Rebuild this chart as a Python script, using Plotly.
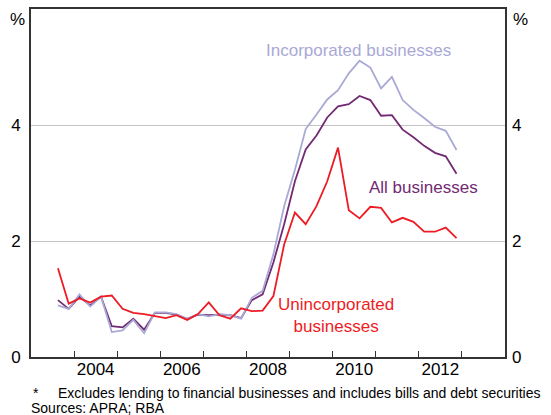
import plotly.graph_objects as go

# quarterly observations, Q3 2003 .. Q4 2012 (plotted at mid-quarter)
quarters = [(y, q) for y in range(2003, 2013) for q in range(1, 5)][2:]
xpos = [y + (q - 0.5) / 4 for y, q in quarters]

incorporated = [0.89, 0.83, 1.08, 0.87, 1.04, 0.43, 0.46, 0.64, 0.41, 0.77,
                0.77, 0.74, 0.66, 0.74, 0.70, 0.74, 0.72, 0.66, 1.02, 1.14,
                1.77, 2.60, 3.23, 3.93, 4.18, 4.44, 4.60, 4.89, 5.11, 4.99,
                4.63, 4.83, 4.43, 4.26, 4.12, 3.97, 3.90, 3.57]
all_bus = [0.98, 0.83, 1.04, 0.89, 1.04, 0.53, 0.51, 0.66, 0.47, 0.76,
           0.76, 0.73, 0.66, 0.73, 0.72, 0.73, 0.72, 0.67, 0.98, 1.08,
           1.63, 2.29, 3.03, 3.58, 3.82, 4.13, 4.32, 4.36, 4.50, 4.43,
           4.16, 4.17, 3.92, 3.79, 3.64, 3.52, 3.46, 3.16]
unincorporated = [1.53, 0.92, 1.01, 0.94, 1.04, 1.06, 0.83, 0.76, 0.74, 0.70,
                  0.67, 0.72, 0.64, 0.74, 0.94, 0.72, 0.66, 0.84, 0.79, 0.80,
                  1.05, 1.94, 2.49, 2.29, 2.60, 3.03, 3.61, 2.53, 2.39, 2.59,
                  2.57, 2.32, 2.40, 2.33, 2.16, 2.16, 2.23, 2.05]

year_ticks = list(range(2004, 2014))
label_years = [2004, 2006, 2008, 2010, 2012]
y_ticks = [0, 2, 4]

RED = '#ED1C24'
PURPLE = '#722A72'
LAVENDER = '#A9A9D6'
FONT = 'Arial, Liberation Sans, sans-serif'

fig = go.Figure()
fig.add_trace(go.Scatter(x=xpos, y=all_bus, mode='lines', name='All businesses',
                         line=dict(color=PURPLE, width=1.8)))
fig.add_trace(go.Scatter(x=xpos, y=incorporated, mode='lines', name='Incorporated businesses',
                         line=dict(color=LAVENDER, width=1.8)))
fig.add_trace(go.Scatter(x=xpos, y=unincorporated, mode='lines', name='Unincorporated businesses',
                         line=dict(color=RED, width=1.8), xaxis='x2', yaxis='y2'))

fig.update_layout(
    width=551, height=415,
    margin=dict(l=31, r=46, t=7, b=58),
    plot_bgcolor='white', paper_bgcolor='white',
    showlegend=False,
    font=dict(family=FONT, size=17, color='black'),
    xaxis=dict(range=[2003, 2014], tickvals=year_ticks, showticklabels=False,
               ticks='inside', ticklen=6, tickcolor='#333', tickwidth=1.2,
               showline=True, linecolor='#333', linewidth=2, mirror=True,
               showgrid=False, zeroline=False),
    xaxis2=dict(range=[2003, 2014], overlaying='x', anchor='y2', side='bottom',
                tickvals=[y + 0.5 for y in label_years], ticktext=[str(y) for y in label_years],
                ticks='', showgrid=False, zeroline=False, showline=False),
    yaxis=dict(range=[0, 6], tickvals=y_ticks, ticks='', showgrid=True,
               gridcolor='#C4C4C4', gridwidth=1, zeroline=False, ticklabelstandoff=5,
               showline=True, linecolor='#333', linewidth=2, mirror=True),
    yaxis2=dict(range=[0, 6], overlaying='y', side='right', tickvals=y_ticks,
                ticklabelstandoff=6,
                ticks='', showgrid=False, zeroline=False, showline=False),
)

fig.add_annotation(x=2010.60, y=5.29, text='Incorporated businesses', showarrow=False,
                   font=dict(color=LAVENDER, size=17))
fig.add_annotation(x=2012.10, y=2.93, text='All businesses', showarrow=False,
                   font=dict(color=PURPLE, size=17))
fig.add_annotation(x=2010.08, y=0.72, text='Unincorporated<br>businesses', showarrow=False,
                   font=dict(color=RED, size=17))

fig.add_annotation(xref='paper', yref='paper', x=(17 - 31) / 474, y=(357 - 18) / 350, text='%',
                   xanchor='center', yanchor='middle', showarrow=False, font=dict(size=17))
fig.add_annotation(xref='paper', yref='paper', x=(520 - 31) / 474, y=(357 - 18) / 350, text='%',
                   xanchor='center', yanchor='middle', showarrow=False, font=dict(size=17))

fig.add_annotation(xref='paper', yref='paper', x=(31 - 31) / 474, y=(357 - 393) / 350,
                   xanchor='left', yanchor='middle', showarrow=False, font=dict(size=14),
                   text='*')
fig.add_annotation(xref='paper', yref='paper', x=(56 - 31) / 474, y=(357 - 393) / 350,
                   xanchor='left', yanchor='middle', showarrow=False, font=dict(size=14),
                   text='Excludes lending to financial businesses and includes bills and debt securities')
fig.add_annotation(xref='paper', yref='paper', x=(29 - 31) / 474, y=(357 - 408) / 350,
                   xanchor='left', yanchor='middle', showarrow=False, font=dict(size=14),
                   text='Sources: APRA; RBA')

fig.write_html("out.html", config={'displayModeBar': False},
               post_script="document.body.style.margin='0';")
